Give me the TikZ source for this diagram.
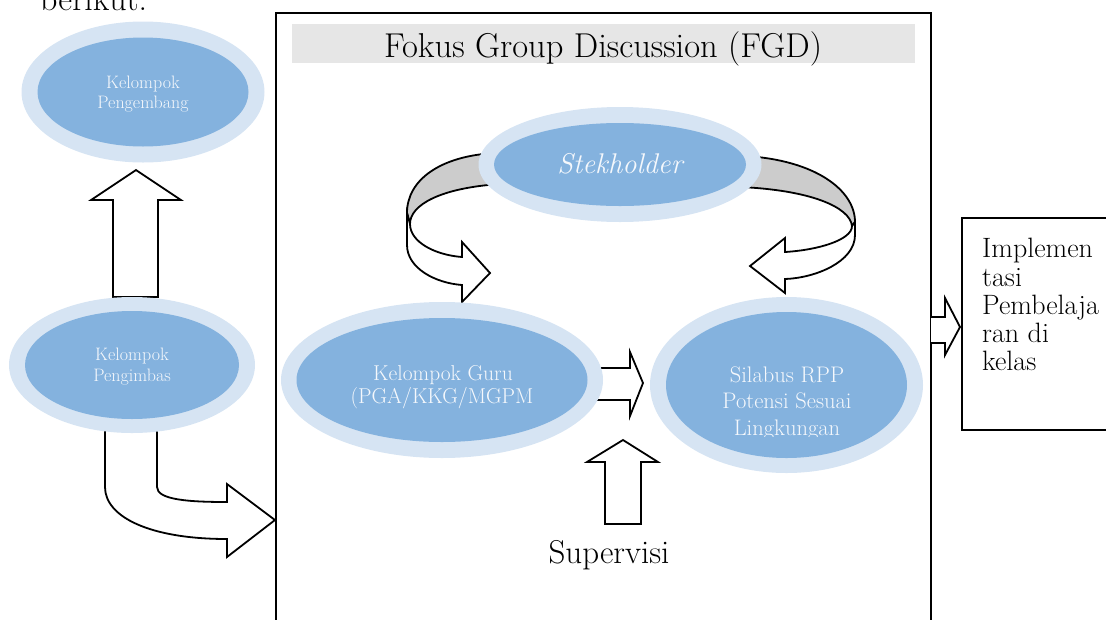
\documentclass[tikz,border=0pt]{standalone}
\usetikzlibrary{shapes.geometric}
\definecolor{ringC}{HTML}{D6E4F3}
\definecolor{coreC}{HTML}{84B2DE}
\definecolor{txtC}{HTML}{F5F8FC}
\definecolor{bandC}{HTML}{CCCCCC}
\definecolor{titleC}{HTML}{E6E6E6}
\tikzset{
  ringE/.style={ellipse, fill=ringC, inner sep=0pt, outer sep=0pt},
  coreE/.style={ellipse, fill=coreC, inner sep=0pt, outer sep=0pt},
  blockarrow/.style={draw=black, fill=white, line width=1.8pt, line join=miter},
  ribbon/.style={draw=black, line width=1.8pt, line join=miter},
  boxline/.style={draw=black, line width=1.8pt},
  smalltxt/.style={text=txtC, inner sep=0pt, anchor=base, font=\fontsize{18}{22}\selectfont},
  midtxt/.style={text=txtC, inner sep=0pt, anchor=base, font=\fontsize{21.5}{26}\selectfont},
  siltxt/.style={text=txtC, inner sep=0pt, anchor=base, font=\fontsize{22.5}{27}\selectfont},
  bigtxt/.style={text=black, inner sep=0pt, font=\fontsize{34}{40}\selectfont},
  impltxt/.style={text=black, inner sep=0pt, anchor=base west, font=\fontsize{28}{32}\selectfont},
}
\begin{document}
\begin{tikzpicture}[x=1pt,y=-1pt]
\useasboundingbox (0,0) rectangle (1106,619);
\begin{scope}
\clip (0,0) rectangle (1106,619);

% heading text cut at top
\node[bigtxt, anchor=base west] (berikut) at (40,10) {berikut.};

% title band and main frame
\fill[titleC] (292,24) rectangle (915,63);
\node[bigtxt, anchor=base, font=\fontsize{34.5}{40}\selectfont] (title) at (603,57) {Fokus Group Discussion (FGD)};
\draw[boxline] (276,640) -- (276,13) -- (931,13) -- (931,640);

% implementation box
\node[draw=black, line width=1.8pt, anchor=north west, minimum width=160pt, minimum height=212pt, inner sep=0pt] (impl) at (961,217) {};
\node[impltxt] (impl1) at (982,257) {Implemen};
\node[impltxt] (impl2) at (982,286) {tasi};
\node[impltxt] (impl3) at (982,314) {Pembelaja};
\node[impltxt] (impl4) at (982,342) {ran di};
\node[impltxt] (impl5) at (982,370) {kelas};

% block arrows
\draw[blockarrow] (113,297) -- (113,200) -- (91,200) -- (136,170) -- (181,200) -- (158,200) -- (158,297) -- cycle;
\draw[blockarrow] (105,429) -- (157,429) -- (157,487) .. controls (157,500) and (190,502) .. (227,502)
   -- (227,484) -- (275,520) -- (227,557) -- (227,539) .. controls (150,539) and (105,517) .. (105,487) -- cycle;
\draw[blockarrow] (590,368) -- (630,368) -- (630,352) -- (643,383) -- (630,416) -- (630,400) -- (590,400) -- cycle;
\draw[blockarrow] (605,524) -- (605,462) -- (587,462) -- (623,440) -- (658,462) -- (641,462) -- (641,524) -- cycle;
\draw[blockarrow] (931,317) -- (945,317) -- (945,298) -- (960,327) -- (945,355) -- (945,343) -- (931,343);

% curved ribbon arrows around Stekholder
\draw[ribbon, fill=bandC] (495,153) .. controls (440,156) and (407,180) .. (407,213) -- (410,224)
   .. controls (410,205) and (440,188) .. (500,184) -- cycle;
\draw[ribbon, fill=white] (407,213) -- (407,245) .. controls (407,268) and (435,283) .. (462,285)
   -- (462,302) -- (490,273) -- (462,242) -- (462,257) .. controls (435,255) and (410,242) .. (410,224) -- cycle;
\draw[ribbon, fill=bandC] (745,156) .. controls (815,160) and (855,190) .. (855,222) -- (852,226)
   .. controls (850,207) and (810,190) .. (740,187) -- cycle;
\draw[ribbon, fill=white] (855,222) -- (855,235) .. controls (855,262) and (815,278) .. (785,279)
   -- (785,293) -- (750,266) -- (785,238) -- (785,252) .. controls (818,250) and (852,240) .. (852,226) -- cycle;

% ellipses
\node[ringE, minimum width=243pt, minimum height=141pt] (pengembangR) at (143,92) {};
\node[coreE, minimum width=211pt, minimum height=109pt] (pengembang) at (143,92) {};
\node[ringE, minimum width=246pt, minimum height=136pt] (pengimbasR) at (132,365) {};
\node[coreE, minimum width=214pt, minimum height=108pt] (pengimbas) at (132,365) {};
\node[ringE, minimum width=283pt, minimum height=115pt] (stekR) at (620,164.5) {};
\node[coreE, minimum width=252pt, minimum height=83pt] (stek) at (620,164.5) {};
\node[ringE, minimum width=322pt, minimum height=156pt] (guruR) at (442,380) {};
\node[coreE, minimum width=291pt, minimum height=124pt] (guru) at (442,380) {};
\node[ringE, minimum width=273pt, minimum height=176pt] (silabusR) at (786.5,385) {};
\node[coreE, minimum width=241pt, minimum height=146pt] (silabus) at (786.5,385) {};

% ellipse texts
\node[smalltxt] (peng1) at (143,88) {Kelompok};
\node[smalltxt] (peng2) at (143,108) {Pengembang};
\node[smalltxt] (pimb1) at (132,360) {Kelompok};
\node[smalltxt] (pimb2) at (132,381) {Pengimbas};
\node[text=txtC, inner sep=0pt, anchor=base, font=\fontsize{28.5}{34}\selectfont\itshape] (stektxt) at (620,173) {Stekholder};
\node[midtxt] (guru1) at (443,380) {Kelompok Guru};
\node[midtxt] (guru2) at (442,403) {(PGA/KKG/MGPM};
\begin{scope}
\clip (650,300) rectangle (923,436);
\node[siltxt] (sil1) at (787,382) {Silabus RPP};
\node[siltxt] (sil2) at (787,408) {Potensi Sesuai};
\node[siltxt] (sil3) at (787,435) {Lingkungan};
\end{scope}

\node[bigtxt, anchor=base, font=\fontsize{33}{40}\selectfont] (supervisi) at (609,563) {Supervisi};
\end{scope}
\end{tikzpicture}
\end{document}
